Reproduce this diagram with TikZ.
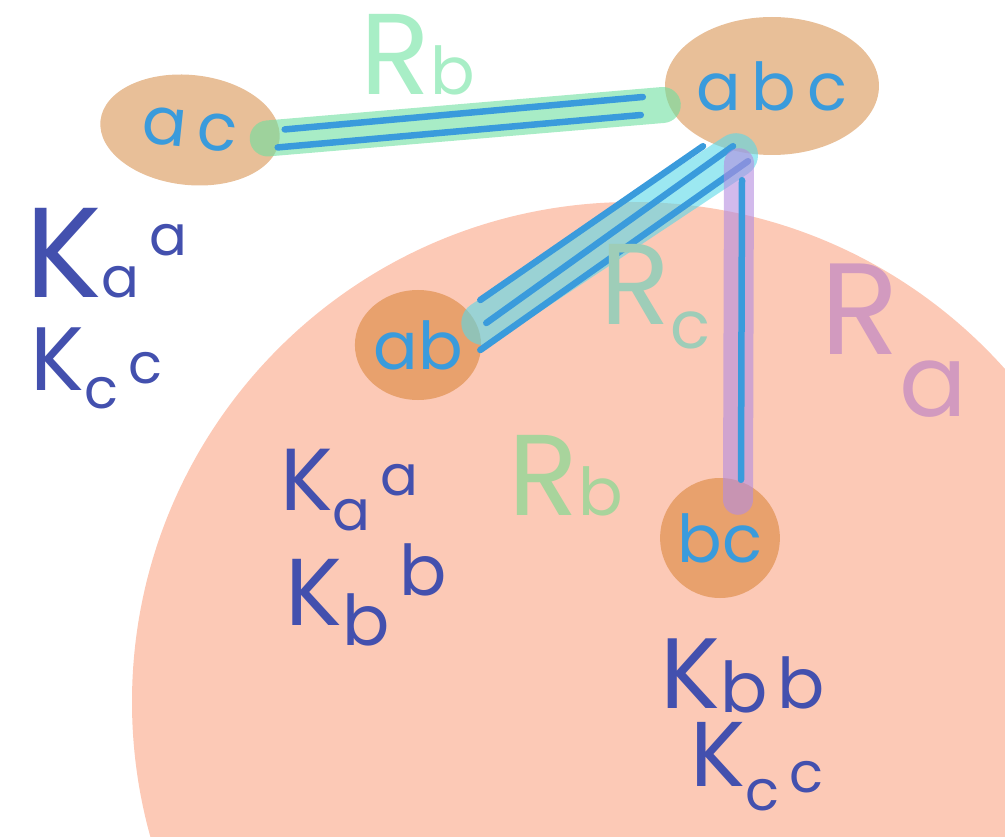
\documentclass[tikz,border=0pt]{standalone}
\usepackage{fontspec}
\setmainfont{Poppins}
\usetikzlibrary{calc,shapes.geometric}

\definecolor{disc}{HTML}{FCC9B6}
\definecolor{tan}{HTML}{E8BF98}
\definecolor{peach}{HTML}{E8A16D}
\definecolor{pen}{HTML}{3A9BDC}
\definecolor{ink}{HTML}{4350AE}
\definecolor{mint}{HTML}{6EE0A0}
\definecolor{aqua}{HTML}{5AD8E8}
\definecolor{lilac}{HTML}{B48CE0}
\definecolor{paleleaf}{HTML}{A8EEC6}
\definecolor{leaf}{HTML}{A8D49C}
\definecolor{sage}{HTML}{9ECDB8}
\definecolor{mauve}{HTML}{D29ABF}

% K (size #1) with its letter #2 once shifted by #3 and once by #4
\newcommand{\kterm}[4]{{\fontsize{#1}{#1}\selectfont K}\raisebox{#3}{#2}\hspace{10pt}\raisebox{#4}{#2}}
\newcommand{\rterm}[2]{{\fontsize{115}{115}\selectfont R}\raisebox{#2}{#1}}

\begin{document}
\begin{tikzpicture}[x=1pt,y=-1pt,
  blob/.style={ellipse,inner sep=0pt,text=pen,font=\fontsize{66}{66}\selectfont},
  band/.style={line width=#1,line cap=round,opacity=0.6},
  stroke/.style={pen,line width=6.5pt,line cap=round},
  kblock/.style={anchor=base west,inner sep=0pt,text=ink,font=\fontsize{56}{56}\selectfont},
  rlabel/.style={anchor=base west,inner sep=0pt,font=\fontsize{66}{66}\selectfont}]

\useasboundingbox (0,0) rectangle (1005,837);

% big disc behind bc and ab
\begin{scope}
  \clip (0,0) rectangle (1005,837);
  \fill[disc] (632,702) circle (500pt);
\end{scope}

% the four sets
\node[blob,fill=tan,minimum width=180,minimum height=110,rotate=-6] (ac) at (190,130) {a\,c};
\node[blob,fill=tan,minimum width=200,minimum height=138] (abc) at (772,86) {a\,b\,c};
\node[blob,fill=peach,minimum width=112,minimum height=110] (ab) at (418,345) {ab};
\node[blob,fill=peach,minimum width=118,minimum height=120] (bc) at (720,538) {bc};

% Rb: ac -- abc
\draw[band=36pt,mint] ($(ac.east)+(-12,-1)$) -- ($(abc.west)+(-2,19)$);
\draw[stroke] ($(ac.east)+(5,-10)$) -- ($(abc.west)+(-22,11)$);
\draw[stroke] ($(ac.east)+(-2,8)$) -- ($(abc.west)+(-24,29)$);

% Rc: ab -- abc
\draw[band=44pt,aqua] ($(ab.east)+(2,-22)$) -- ($(abc.south)+(-36,0)$);
\foreach \sx/\sy/\ex/\ey in {-1/-45/-69/-9, 5/-22/-39/-9, -1/5/-24/6} {
  \draw[stroke] ($(ab.east)+(\sx,\sy)$) -- ($(abc.south)+(\ex,\ey)$);
}

% Ra: bc -- abc
\draw[band=30pt,lilac] ($(abc.south)+(-33,8)$) -- ($(bc.north)+(18,22)$);
\draw[stroke] ($(abc.south)+(-30,25)$) -- ($(bc.north)+(21,2)$);

% relation names
\node[rlabel,text=paleleaf] (rbtop) at (360,95) {\rterm{b}{0pt}};
\node[rlabel,text=sage] (rc) at (600,325) {\rterm{c}{-24pt}};
\node[rlabel,text=leaf] (rbmid) at (508,515) {\rterm{b}{0pt}};
\node[rlabel,text=mauve] (ra) at (820,355)
  {{\fontsize{130}{130}\selectfont R}\raisebox{-62pt}{\fontsize{100}{100}\selectfont a}};

% keys under each set
\node[kblock] (kaL) at (25,298) {\kterm{128}{a}{0pt}{42pt}};
\node[kblock] (kcL) at (30,390) {\kterm{90}{c}{-18pt}{6pt}};
\node[kblock] (kaM) at (280,510) {\kterm{88}{a}{-20pt}{15pt}};
\node[kblock,font=\fontsize{70}{70}\selectfont] (kbM) at (285,625) {\kterm{95}{b}{-20pt}{30pt}};
\node[kblock,font=\fontsize{70}{70}\selectfont] (kbR) at (660,708) {\kterm{100}{b}{-4pt}{0pt}};
\node[kblock] (kcR) at (690,786) {\kterm{92}{c}{-24pt}{-6pt}};
\end{tikzpicture}
\end{document}
